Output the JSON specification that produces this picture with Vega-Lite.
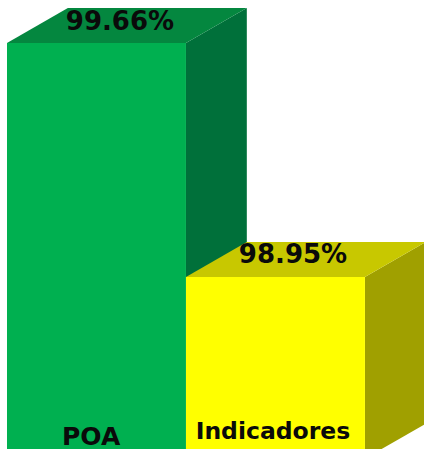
{
"$schema":"https://vega.github.io/schema/vega-lite/v6.json",
"width":424,"height":449,"padding":0,
"autosize":{"type":"none"},
"background":"white",
"view":{"stroke":null},
"datasets":{
"fronts":[
{"serie":"POA","face":"POA front","start":0,"end":1,"low":98.399,"value":99.66},
{"serie":"Indicadores","face":"Indicadores front","start":1,"end":2,"low":98.399,"value":98.95}],
"sides":[
{"face":"POA side","pos":1,"low":98.399,"high":99.66},
{"face":"POA side","pos":1.34,"low":98.505,"high":99.766},
{"face":"Indicadores side","pos":2,"low":98.399,"high":98.95},
{"face":"Indicadores side","pos":2.34,"low":98.505,"high":99.056}],
"tops":[
{"face":"POA top","level":99.66,"left":0,"right":1},
{"face":"POA top","level":99.766,"left":0.34,"right":1.34},
{"face":"Indicadores top","level":98.95,"left":1,"right":2},
{"face":"Indicadores top","level":99.056,"left":1.34,"right":2.34}],
"labels":[
{"text":"99.66%","pos":0.631,"level":99.724,"size":26},
{"text":"98.95%","pos":1.598,"level":99.017,"size":26},
{"text":"POA","pos":0.47,"level":98.464,"size":25},
{"text":"Indicadores","pos":1.486,"level":98.48,"size":23.5}]
},
"layer":[
{"data":{"name":"sides"},"mark":{"type":"area","clip":true,"interpolate":"linear"},
"encoding":{
"x":{"field":"pos","type":"quantitative","scale":{"domain":[-0.0391,2.33],"nice":false,"zero":false},"axis":null},
"y":{"field":"low","type":"quantitative","scale":{"domain":[98.4281,99.7905],"nice":false,"zero":false},"axis":null},
"y2":{"field":"high"},
"color":{"field":"face","type":"nominal","legend":null,"scale":{"domain":["POA front","POA side","POA top","Indicadores front","Indicadores side","Indicadores top"],"range":["#00B050","#00703A","#04873F","#FFFF00","#A0A000","#C8C800"]}}}},
{"data":{"name":"tops"},"mark":{"type":"area","orient":"horizontal","clip":true},
"encoding":{
"y":{"field":"level","type":"quantitative","axis":null},
"x":{"field":"left","type":"quantitative","axis":null},
"x2":{"field":"right"},
"color":{"field":"face","type":"nominal","legend":null}}},
{"data":{"name":"fronts"},"mark":{"type":"rect","clip":true},
"encoding":{
"x":{"field":"start","type":"quantitative","axis":null},
"x2":{"field":"end"},
"y":{"field":"low","type":"quantitative","axis":null},
"y2":{"field":"value"},
"color":{"field":"face","type":"nominal","legend":null}}},
{"data":{"name":"labels"},"mark":{"type":"text","font":"DejaVu Sans","fontWeight":"bold","color":"#0a0a0a","align":"center","baseline":"middle"},
"encoding":{
"x":{"field":"pos","type":"quantitative","axis":null},
"y":{"field":"level","type":"quantitative","axis":null},
"text":{"field":"text"},
"size":{"field":"size","type":"quantitative","scale":null}}}
]
}
